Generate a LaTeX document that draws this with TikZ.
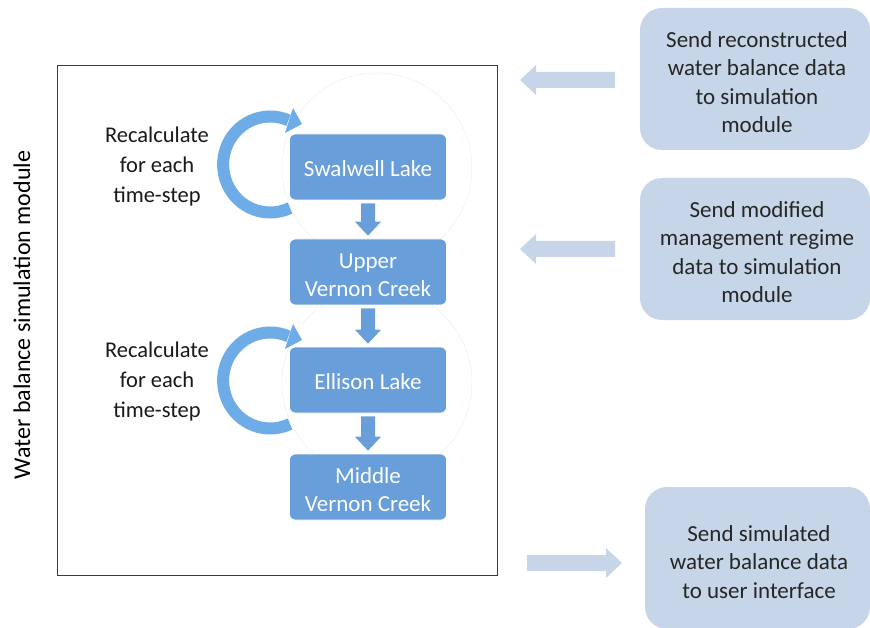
\documentclass[tikz,border=0pt]{standalone}
\usepackage{fontspec}
\setmainfont{Carlito}
\usetikzlibrary{arrows.meta,calc}
\definecolor{boxblue}{RGB}{104,158,217}
\definecolor{loopblue}{RGB}{110,172,232}
\definecolor{paleblue}{RGB}{198,214,232}
\definecolor{framegray}{RGB}{60,60,60}
\tikzset{
  x=1pt,y=-1pt,
  stage/.style={draw=white,line width=0.6pt,fill=boxblue,rounded corners=6pt,minimum width=157pt,minimum height=66pt},
  stagetext/.style={text=white,align=center,font=\fontsize{23}{28}\selectfont},
  sendbox/.style={fill=paleblue,rounded corners=22pt,minimum width=230pt,minimum height=142pt},
  sendtext/.style={align=center,font=\fontsize{23}{28.5}\selectfont,text=black!85},
  note/.style={align=center,font=\fontsize{22.5}{30}\selectfont,text=black!90},
  downarrow/.style={fill=boxblue},
  flatarrow/.style={fill=paleblue},
  loop/.style={loopblue,line width=12pt},
  halo/.style={draw=black!7,line width=0.5pt}
}
\begin{document}
\begin{tikzpicture}
\useasboundingbox (0,0) rectangle (870,628);
% frame
\node[draw=framegray,line width=1.2pt,minimum width=440pt,minimum height=510pt,anchor=north west] (frame) at (57,65) {};
\node[rotate=90,font=\fontsize{24}{28}\selectfont] (label) at (22,315) {Water balance simulation module};
% faint halos
\draw[halo] (377,168) circle (95);
\draw[halo] (377,383) circle (95);
% stages
\node[stage] (s1) at (368,167) {};
\node[stage] (s2) at (368,272) {};
\node[stage] (s3) at (368,380) {};
\node[stage] (s4) at (368,487) {};
\node[stagetext] (s1t) at (368,169) {Swalwell Lake};
\node[stagetext] (s2t) at (368,275) {Upper\\Vernon Creek};
\node[stagetext] (s3t) at (368,382) {Ellison Lake};
\node[stagetext] (s4t) at (368,490) {Middle\\Vernon Creek};
% down arrows
\foreach \a/\b in {s1/s2,s2/s3,s3/s4}{
  \path (\a.south) ++(0,3) coordinate (t) (\b.north) ++(0,-3) coordinate (h);
  \fill[downarrow] ($(t)+(-7,0)$) -- ($(t)+(7,0)$) -- ($(h)+(7,-14)$) -- ($(h)+(13,-14)$) -- (h) -- ($(h)+(-13,-14)$) -- ($(h)+(-7,-14)$) -- cycle;
}
% loops
\foreach \cy in {164,380}{
  \draw[loop] (290,\cy+44) arc[start angle=65,end angle=293,x radius=47,y radius=48];
  \fill[loopblue] (293,\cy-56) -- (302,\cy-40) -- (285,\cy-31) -- cycle;
}
\node[note] (n1) at (157,167) {Recalculate\\for each\\time-step};
\node[note] (n2) at (157,382) {Recalculate\\for each\\time-step};
% right boxes
\node[sendbox] (r1) at (755,79) {};
\node[sendbox] (r2) at (755,249) {};
\node[sendbox,minimum width=225pt] (r3) at (757.5,558) {};
\node[sendtext] (t1) at (757,82) {Send reconstructed\\water balance data\\to simulation\\module};
\node[sendtext] (t2) at (757,252) {Send modified\\management regime\\data to simulation\\module};
\node[sendtext] (t3) at (759,562) {Send simulated\\water balance data\\to user interface};
% flat arrows
\coordinate (a1t) at (615,80); \coordinate (a1h) at (520,80);
\coordinate (a2t) at (615,249); \coordinate (a2h) at (520,249);
\coordinate (a3t) at (527,563); \coordinate (a3h) at (622,563);
\fill[flatarrow] ($(a1t)+(0,-8)$) -- ($(a1h)+(16,-8)$) -- ($(a1h)+(16,-15)$) -- (a1h) -- ($(a1h)+(16,15)$) -- ($(a1h)+(16,8)$) -- ($(a1t)+(0,8)$) -- cycle;
\fill[flatarrow] ($(a2t)+(0,-8)$) -- ($(a2h)+(16,-8)$) -- ($(a2h)+(16,-15)$) -- (a2h) -- ($(a2h)+(16,15)$) -- ($(a2h)+(16,8)$) -- ($(a2t)+(0,8)$) -- cycle;
\fill[flatarrow] ($(a3t)+(0,-8)$) -- ($(a3h)+(-16,-8)$) -- ($(a3h)+(-16,-15)$) -- (a3h) -- ($(a3h)+(-16,15)$) -- ($(a3h)+(-16,8)$) -- ($(a3t)+(0,8)$) -- cycle;
\end{tikzpicture}
\end{document}
